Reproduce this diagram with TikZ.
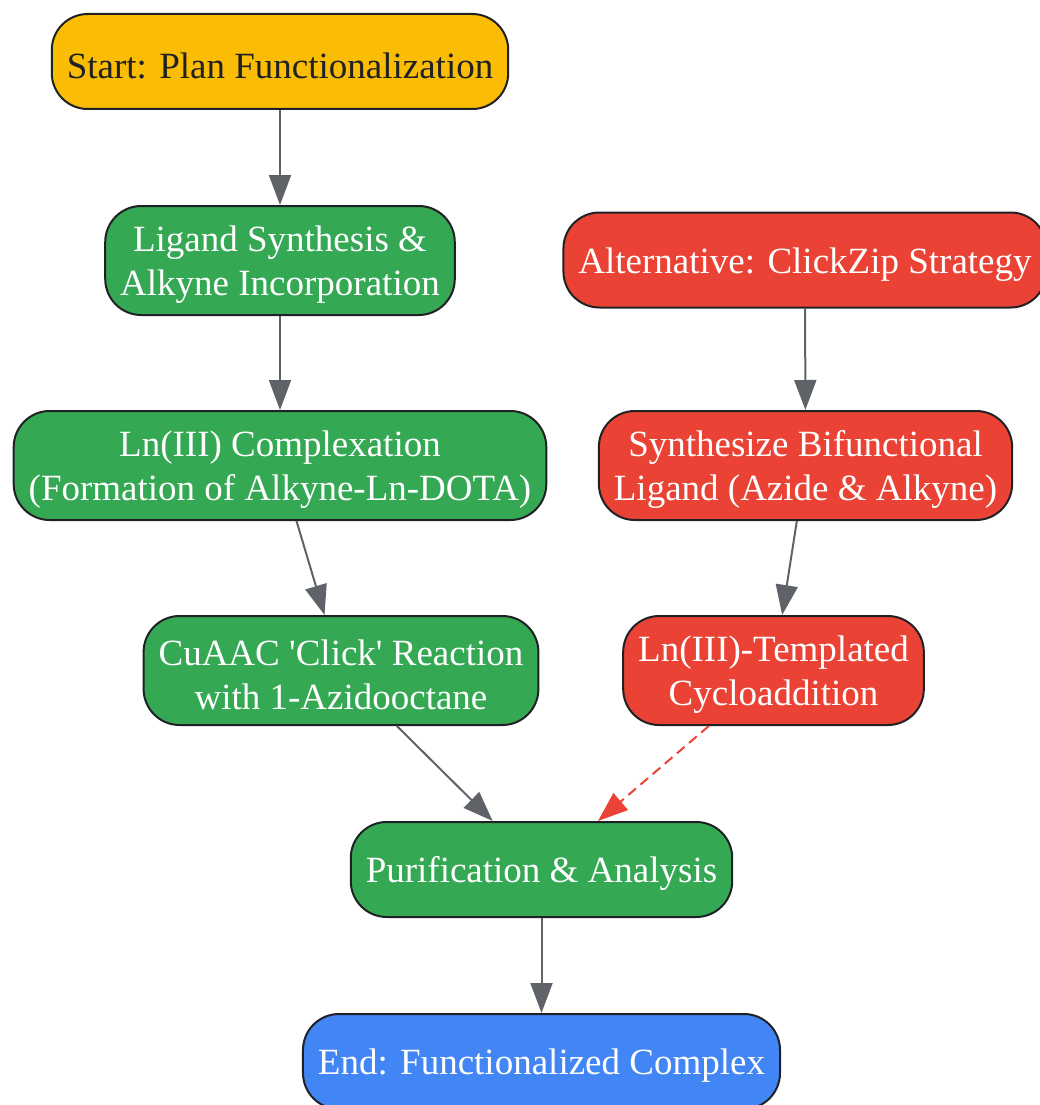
\documentclass[tikz,border=0pt]{standalone}
\usepackage{fontspec}
\setmainfont{Liberation Serif}
\usepackage{tikz}
\usetikzlibrary{arrows.meta}
\definecolor{startyellow}{HTML}{FBBC04}
\definecolor{stepgreen}{HTML}{34A853}
\definecolor{altred}{HTML}{EA4335}
\definecolor{endblue}{HTML}{4285F4}
\definecolor{edgegray}{HTML}{5F6368}
\definecolor{rimdark}{HTML}{202124}
\begin{document}
\begin{tikzpicture}[x=1pt,y=-1pt,
  box/.style={draw=rimdark, line width=2pt, rounded corners=36pt, align=center,
    inner xsep=15pt, inner ysep=4pt, minimum height=95pt, text=white,
    font=\fontsize{37}{44}\selectfont,
    execute at begin node={\rule{0pt}{34pt}}},
  tall/.style={minimum height=109pt, execute at begin node={\rule{0pt}{78pt}}},
  flow/.style={draw=edgegray, line width=2pt, -{Triangle[length=30pt,width=22pt]}},
  altflow/.style={draw=altred, line width=2pt, dash pattern=on 10pt off 6pt,
    -{Triangle[length=30pt,width=22pt]}}]
\useasboundingbox (0,0) rectangle (1039,1105);
\node[box, fill=startyellow, text=rimdark] (start) at (280,61.5) {Start: Plan Functionalization};
\node[box, tall, fill=stepgreen] (ligand) at (280,260.5) {Ligand Synthesis \&\\Alkyne Incorporation};
\node[box, tall, fill=stepgreen] (complex) at (280,465.5) {Ln(III) Complexation\\(Formation of Alkyne-Ln-DOTA)};
\node[box, tall, fill=stepgreen] (click) at (341,670.5) {CuAAC \textquotesingle Click\textquotesingle{} Reaction\\with 1-Azidooctane};
%alternative route
\node[box, fill=altred] (alt) at (805,260) {Alternative: ClickZip Strategy};
\node[box, tall, fill=altred] (bifunc) at (805.5,465.5) {Synthesize Bifunctional\\Ligand (Azide \& Alkyne)};
\node[box, tall, fill=altred] (templ) at (773.5,670.5) {Ln(III)-Templated\\Cycloaddition};
%common end
\node[box, fill=stepgreen] (purif) at (541.5,869.5) {Purification \& Analysis};
\node[box, fill=endblue] (finish) at (541.5,1061.5) {End: Functionalized Complex};
\draw[flow] (start) -- (ligand);
\draw[flow] (ligand) -- (complex);
\draw[flow] (complex) -- (click);
\draw[flow] (click) -- (purif);
\draw[flow] (alt) -- (bifunc);
\draw[flow] (bifunc) -- (templ);
\draw[altflow] (templ) -- (purif);
\draw[flow] (purif) -- (finish);
\end{tikzpicture}
\end{document}
